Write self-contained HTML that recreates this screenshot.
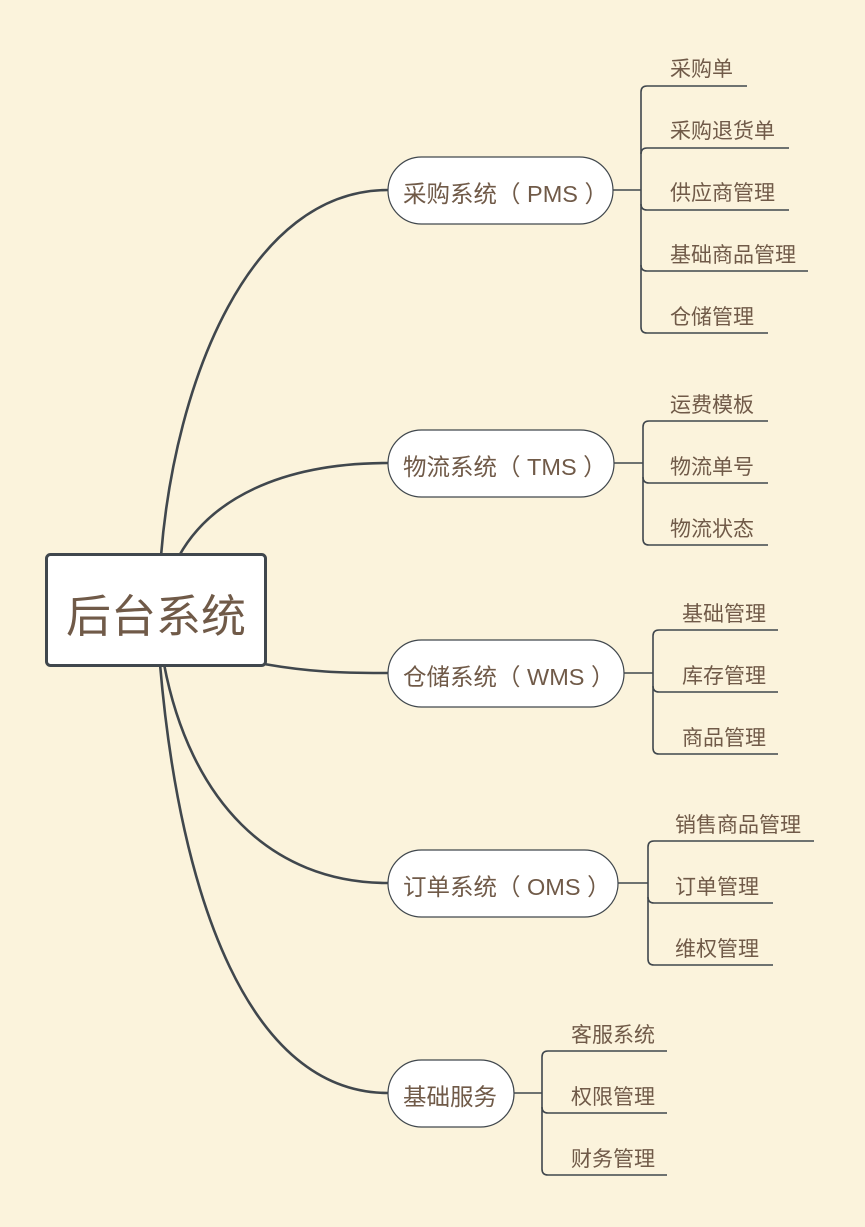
<!DOCTYPE html>
<html><head><meta charset="utf-8">
<style>
html,body{margin:0;padding:0;background:#FBF3DC;}
svg{display:block;}
text{font-family:"Liberation Sans","Noto Sans CJK SC",sans-serif;fill:#705A48;}
</style></head>
<body>
<svg width="865" height="1227" viewBox="0 0 865 1227" xmlns="http://www.w3.org/2000/svg">
<rect width="865" height="1227" fill="#FBF3DC"/>
<g fill="none" stroke="#40474D" stroke-width="2.6">
<path d="M161 556 C175 380 250 190 388 190"/>
<path d="M179 556 C210 500 280 463 388 463"/>
<path d="M264 664 C310 672 340 673 388 673"/>
<path d="M164 664 C190 800 270 883 388 883"/>
<path d="M160 664 C180 900 250 1093 388 1093"/>
</g>
<rect x="46.5" y="554.5" width="219" height="111" rx="4" fill="#fff" stroke="#40474D" stroke-width="3"/>
<text x="156" y="632" font-size="45" text-anchor="middle">后台系统</text>
<g fill="#fff" stroke="#40474D" stroke-width="1.2">
<rect x="388" y="157" width="225" height="67" rx="33.5"/>
<rect x="388" y="430" width="226" height="67" rx="33.5"/>
<rect x="388" y="640" width="236" height="67" rx="33.5"/>
<rect x="388" y="850" width="230" height="67" rx="33.5"/>
<rect x="388" y="1060" width="126" height="67" rx="33.5"/>
</g>
<g font-size="23.5">
<text x="403" y="202">采购系统（ PMS ）</text>
<text x="403" y="475">物流系统（ TMS ）</text>
<text x="403" y="685">仓储系统（ WMS ）</text>
<text x="403" y="895">订单系统（ OMS ）</text>
<text x="403" y="1105">基础服务</text>
</g>
<g fill="none" stroke="#40474D" stroke-width="1.6">
<path d="M613 190 H641"/>
<path d="M747 86 H647 Q641 86 641 92 V327 Q641 333 647 333 H768"/>
<path d="M789 148 H647 Q641 148 641 154"/>
<path d="M789 210 H647 Q641 210 641 204"/>
<path d="M808 271 H647 Q641 271 641 265"/>
<path d="M614 463 H643"/>
<path d="M768 421 H649 Q643 421 643 427 V539 Q643 545 649 545 H768"/>
<path d="M768 483 H649 Q643 483 643 477"/>
<path d="M624 673 H653"/>
<path d="M778 630 H659 Q653 630 653 636 V748 Q653 754 659 754 H778"/>
<path d="M778 692 H659 Q653 692 653 686"/>
<path d="M618 883 H648"/>
<path d="M814 841 H654 Q648 841 648 847 V959 Q648 965 654 965 H773"/>
<path d="M773 903 H654 Q648 903 648 897"/>
<path d="M514 1093 H542"/>
<path d="M667 1051 H548 Q542 1051 542 1057 V1169 Q542 1175 548 1175 H667"/>
<path d="M667 1113 H548 Q542 1113 542 1107"/>
</g>
<g font-size="21">
<text x="670" y="76">采购单</text>
<text x="670" y="138">采购退货单</text>
<text x="670" y="200">供应商管理</text>
<text x="670" y="262">基础商品管理</text>
<text x="670" y="324">仓储管理</text>
<text x="670" y="412">运费模板</text>
<text x="670" y="474">物流单号</text>
<text x="670" y="536">物流状态</text>
<text x="682" y="621">基础管理</text>
<text x="682" y="683">库存管理</text>
<text x="682" y="745">商品管理</text>
<text x="675" y="832">销售商品管理</text>
<text x="675" y="894">订单管理</text>
<text x="675" y="956">维权管理</text>
<text x="571" y="1042">客服系统</text>
<text x="571" y="1104">权限管理</text>
<text x="571" y="1166">财务管理</text>
</g>
</svg>
</body></html>
